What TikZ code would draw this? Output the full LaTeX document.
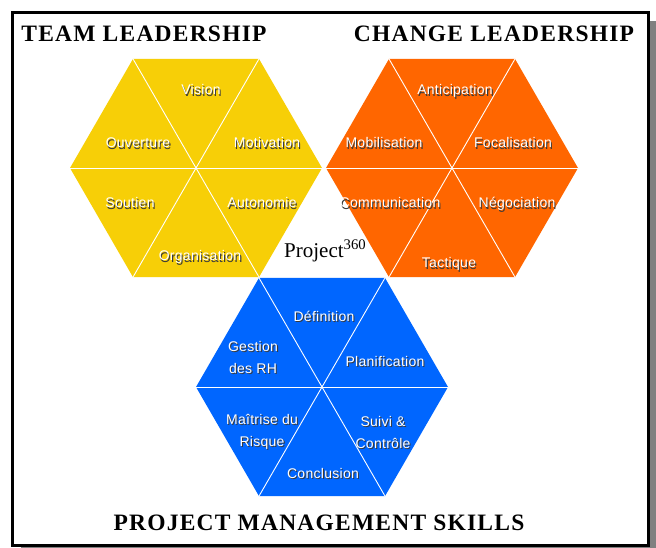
\documentclass[tikz,border=0pt]{standalone}
\usepackage{fontspec}
\setmainfont{Liberation Serif}
\newfontfamily\labelfont[LetterSpace=2]{Liberation Sans}
\newfontfamily\titlefont[LetterSpace=5.2]{Liberation Serif}
\definecolor{teamyellow}{HTML}{F7CF07}
\definecolor{changeorange}{HTML}{FF6600}
\definecolor{pmblue}{HTML}{0066FF}
\definecolor{framegray}{HTML}{808080}
\definecolor{labelshade}{HTML}{3A3A3A}

\tikzset{
  divider/.style={draw=white, line width=0.9pt},
  title/.style={font=\titlefont\bfseries\fontsize{23.5}{26}\selectfont, text=black, inner sep=0pt},
  celltext/.style={font=\labelfont\fontsize{14}{22}\selectfont, text=white, align=center, inner sep=0pt},
  oneline/.style={text height=10pt, text depth=0pt},
  cellshade/.style={celltext, text=labelshade},
}

% hexagon with flat top, cut into six triangles by three diagonals
\newcommand\hexcell[4]{% #1 name, #2 x, #3 y, #4 colour
  \begin{scope}[shift={(#2,#3)}]
    \coordinate (#1) at (0,0);
    \fill[#4] (0:126) -- (60:126) -- (120:126) -- (180:126) -- (240:126) -- (300:126) -- cycle;
    \foreach \a in {0,60,120}
      \draw[divider] (\a:126) -- (\a+180:126);
  \end{scope}
}

% white embossed label: dark copy shifted down-right, white copy on top
\newcommand\celllabel[5][oneline]{% #1 extra style, #2 name, #3 x, #4 y, #5 text
  \node[cellshade,#1] (#2s) at (#3+1.1,#4-1.1) {#5};
  \node[celltext,#1] (#2) at (#3,#4) {#5};
}

\begin{document}
\begin{tikzpicture}[x=1pt,y=1pt]
  \useasboundingbox (0,0) rectangle (656,-548);

  % framed panel with a drop shadow
  \fill[framegray] (21,-21) rectangle (660,-556);
  \filldraw[fill=white, draw=black, line width=3pt] (12.5,-12.5) rectangle (648.5,-545.5);

  % the three hexagons
  \hexcell{team}{196}{-168}{teamyellow}
  \hexcell{change}{452}{-168}{changeorange}
  \hexcell{pm}{322}{-387}{pmblue}

  % titles
  \node[title] (ttlteam) at (144,-34) {TEAM LEADERSHIP};
  \node[title] (ttlchange) at (494,-34) {CHANGE LEADERSHIP};
  \node[title] (ttlpm) at (319,-523) {PROJECT MANAGEMENT SKILLS};

  % centre caption
  \node[font=\fontsize{21}{24}\selectfont, inner sep=0pt, anchor=base west] (project) at (284,-257.3) {Project\textsuperscript{360}};

  % team leadership
  \celllabel{vision}{201}{-90}{Vision}
  \celllabel{ouverture}{138}{-143}{Ouverture}
  \celllabel{motivation}{267}{-143}{Motivation}
  \celllabel{soutien}{130}{-203}{Soutien}
  \celllabel{autonomie}{262}{-203}{Autonomie}
  \celllabel{organisation}{200}{-256}{Organisation}

  % change leadership
  \celllabel{anticipation}{455}{-90}{Anticipation}
  \celllabel{mobilisation}{384}{-143}{Mobilisation}
  \celllabel{focalisation}{513}{-143}{Focalisation}
  \celllabel{communication}{390}{-203}{Communication}
  \celllabel{negociation}{517}{-203}{Négociation}
  \celllabel{tactique}{449}{-263}{Tactique}

  % project management skills
  \celllabel{definition}{324}{-316}{Définition}
  \celllabel[]{gestion}{253}{-357}{Gestion\\des RH}
  \celllabel{planification}{385}{-361}{Planification}
  \celllabel[]{maitrise}{262}{-432}{Maîtrise du\\Risque}
  \celllabel[]{suivi}{383}{-432}{Suivi \&\\Contrôle}
  \celllabel{conclusion}{323}{-473}{Conclusion}
\end{tikzpicture}
\end{document}
